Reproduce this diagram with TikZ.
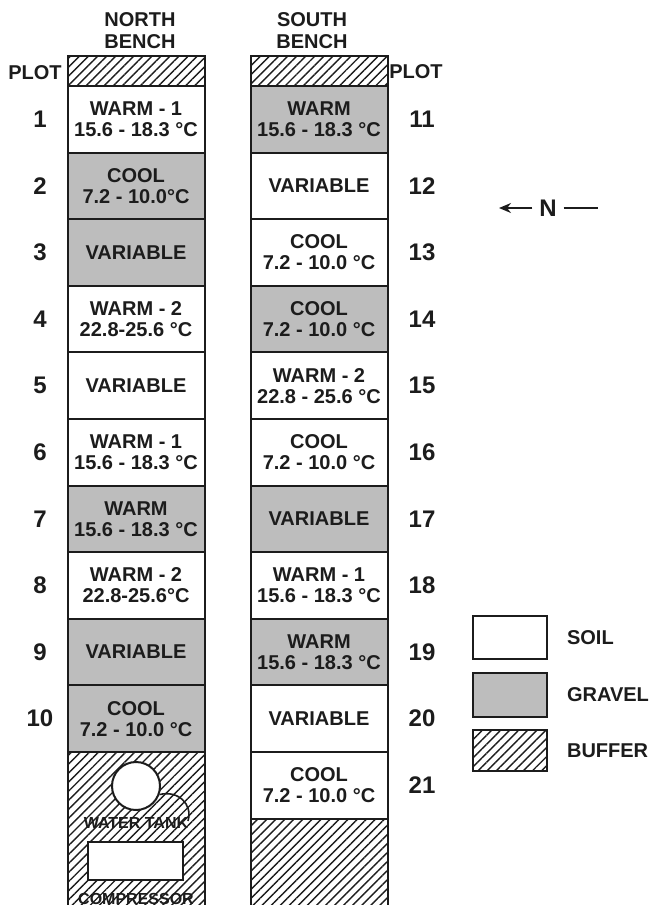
\documentclass[tikz,border=0pt]{standalone}
\usepackage{fontspec}
\setmainfont{Liberation Sans}
\usetikzlibrary{arrows.meta, positioning, patterns.meta}
\definecolor{GravelGray}{HTML}{BDBDBD}
\definecolor{BenchInk}{HTML}{1C1C1C}
\tikzset{
  plotbox/.style={draw=BenchInk, line width=1pt, fill=#1, rectangle,
                  minimum width=68.5pt, minimum height=33.3pt,
                  inner sep=0pt, outer sep=0pt, text=BenchInk,
                  font=\bfseries\fontsize{10}{10.5}\selectfont, align=center},
  bufferbox/.style={draw=BenchInk, line width=1pt, rectangle,
                    inner sep=0pt, outer sep=0pt, minimum width=68.5pt,
                    pattern={Lines[angle=45, distance=3.2pt, line width=0.7pt]},
                    pattern color=BenchInk},
  platenum/.style={font=\bfseries\fontsize{12}{12}\selectfont, text=BenchInk},
  headtext/.style={font=\bfseries\fontsize{10}{11}\selectfont, align=center, text=BenchInk},
  keytext/.style={font=\bfseries\fontsize{10}{10}\selectfont, text=BenchInk},
  smalltag/.style={font=\bfseries\fontsize{8}{8}\selectfont, text=BenchInk}
}

\begin{document}
\begin{tikzpicture}[x=0.5pt, y=-0.5pt]
  \useasboundingbox (0,0) rectangle (652,905);

  % north bench, plots 1-10
  \foreach \fillc/\txt [count=\k] in {
      white/{WARM - 1\\15.6 - 18.3 °C},
      GravelGray/{COOL\\7.2 - 10.0°C},
      GravelGray/{VARIABLE},
      white/{WARM - 2\\22.8-25.6 °C},
      white/{VARIABLE},
      white/{WARM - 1\\15.6 - 18.3 °C},
      GravelGray/{WARM\\15.6 - 18.3 °C},
      white/{WARM - 2\\22.8-25.6°C},
      GravelGray/{VARIABLE},
      GravelGray/{COOL\\7.2 - 10.0 °C}} {
    \node[plotbox=\fillc] (n\k) at (136, {86+66.6*(\k-0.5)}) {\txt};
    \node[platenum] (num\k) at (40, {86+66.6*(\k-0.5)}) {\k};
  }

  % south bench, plots 11-21
  \foreach \fillc/\txt [count=\k from 11] in {
      GravelGray/{WARM\\15.6 - 18.3 °C},
      white/{VARIABLE},
      white/{COOL\\7.2 - 10.0 °C},
      GravelGray/{COOL\\7.2 - 10.0 °C},
      white/{WARM - 2\\22.8 - 25.6 °C},
      white/{COOL\\7.2 - 10.0 °C},
      GravelGray/{VARIABLE},
      white/{WARM - 1\\15.6 - 18.3 °C},
      GravelGray/{WARM\\15.6 - 18.3 °C},
      white/{VARIABLE},
      white/{COOL\\7.2 - 10.0 °C}} {
    \node[plotbox=\fillc] (s\k) at (319, {86+66.6*(\k-10.5)}) {\txt};
    \node[platenum] (num\k) at (422, {86+66.6*(\k-10.5)}) {\k};
  }

  % buffers
  \node[bufferbox, minimum height=15pt, above=0pt of n1]  (nbuftop) {};
  \node[bufferbox, minimum height=15pt, above=0pt of s11] (sbuftop) {};
  \node[bufferbox, minimum height=82pt, below=0pt of n10] (nbufbot) {};
  \node[bufferbox, minimum height=48pt, below=0pt of s21] (sbufbot) {};

  % headings
  \node[headtext] (northhead) at (140,31) {NORTH\\BENCH};
  \node[headtext] (southhead) at (312,31) {SOUTH\\BENCH};
  \node[headtext] (plotleft)  at (35,73)  {PLOT};
  \node[headtext] (plotright) at (416,72) {PLOT};

  % water tank and compressor
  \node[circle, draw=BenchInk, line width=1pt, fill=white, inner sep=0pt,
        minimum size=24pt] (tank) at (136,786) {};
  \coordinate (hoseend) at (188,821);
  \draw[BenchInk, line width=0.8pt] (tank.-20) .. controls (178,790) and (193,804) .. (hoseend);
  \node[smalltag] (tanktag) at (136,823) {WATER TANK};
  \node[rectangle, draw=BenchInk, line width=1pt, fill=white, inner sep=0pt,
        minimum width=47.5pt, minimum height=19pt] (compressor) at (135.5,861) {};
  \node[smalltag] (comptag) at (136,899) {COMPRESSOR};

  % north arrow
  \node[platenum] (northmark) at (548,208) {N};
  \coordinate (ntip)  at (499,208);
  \coordinate (ntail) at (598,208);
  \draw[BenchInk, line width=0.9pt, -{Stealth[length=6pt, width=5pt]}] (northmark.west) -- (ntip);
  \draw[BenchInk, line width=0.9pt] (northmark.east) -- (ntail);

  % key
  \node[plotbox=white, minimum width=37pt, minimum height=21.5pt] (soilkey)   at (510,637.5) {};
  \node[plotbox=GravelGray, minimum width=37pt, minimum height=22pt] (gravelkey) at (510,694.5) {};
  \node[bufferbox, minimum width=37pt, minimum height=20.5pt] (bufferkey) at (510,750.5) {};
  \node[keytext, right=6.5pt of soilkey]   (soillabel)   {SOIL};
  \node[keytext, right=6.5pt of gravelkey] (gravellabel) {GRAVEL};
  \node[keytext, right=6.5pt of bufferkey] (bufferlabel) {BUFFER};
\end{tikzpicture}
\end{document}
